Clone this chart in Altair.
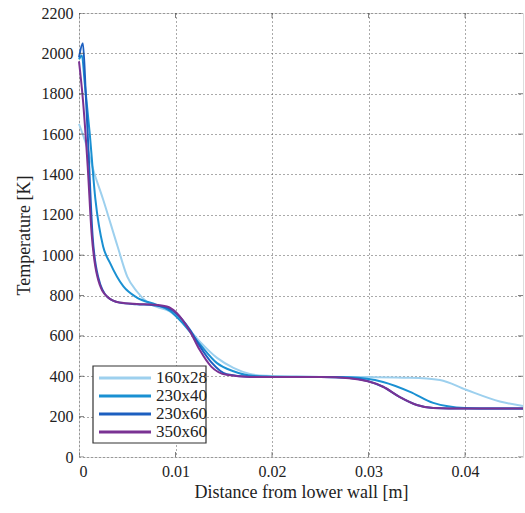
import altair as alt
import pandas as pd

series_names = ["160x28", "230x40", "230x60", "350x60"]
colors = ["#9dd0ee", "#1a90d2", "#1c5fc0", "#7a3293"]

x_160x28 = [0, 0.0008, 0.0015, 0.0025, 0.004, 0.005, 0.006, 0.007, 0.008, 0.0094, 0.0108, 0.0125, 0.0143, 0.016, 0.0177, 0.0194, 0.022, 0.026, 0.03, 0.0343, 0.0374, 0.0401, 0.0436, 0.046]
y_160x28 = [1650, 1540, 1420, 1276, 1043, 894, 820, 770, 745, 722, 665, 573, 491, 442, 412, 402, 398, 397, 396, 393, 382, 333, 275, 253]

x_230x40 = [0, 0.0003, 0.0006, 0.0011, 0.0017, 0.0025, 0.0032, 0.0046, 0.006, 0.008, 0.0094, 0.0108, 0.0125, 0.0143, 0.016, 0.018, 0.02, 0.025, 0.028, 0.0315, 0.0343, 0.0367, 0.040, 0.043, 0.046]
y_230x40 = [1970, 1990, 1850, 1609, 1276, 1043, 963, 845, 790, 755, 725, 660, 560, 465, 425, 402, 398, 397, 395, 372, 323, 268, 243, 240, 240]

x_230x60 = [0, 0.0004, 0.0007, 0.001, 0.0014, 0.002, 0.003, 0.0042, 0.006, 0.0077, 0.0091, 0.0101, 0.0115, 0.0125, 0.0137, 0.0153, 0.0177, 0.02, 0.025, 0.028, 0.0315, 0.0332, 0.035, 0.0367, 0.04, 0.046]
y_230x60 = [1980, 2050, 1800, 1500, 1100, 890, 790, 765, 757, 752, 740, 710, 630, 550, 470, 410, 398, 397, 396, 392, 348, 298, 258, 243, 240, 240]

x_350x60 = [0, 0.0004, 0.0009, 0.0013, 0.0019, 0.0029, 0.0042, 0.006, 0.0077, 0.0091, 0.0101, 0.0115, 0.0125, 0.0137, 0.0153, 0.0177, 0.02, 0.025, 0.028, 0.0315, 0.0332, 0.035, 0.0367, 0.04, 0.046]
y_350x60 = [1960, 1773, 1440, 1112, 894, 795, 765, 758, 755, 746, 715, 622, 531, 448, 407, 397, 397, 396, 390, 348, 298, 258, 243, 240, 240]

x_ticks = [0, 0.01, 0.02, 0.03, 0.04]
y_ticks = list(range(0, 2201, 200))
x_min, x_max = 0, 0.046
y_min, y_max = 0, 2200

rows = []
for name, xs, ys in [("160x28", x_160x28, y_160x28), ("230x40", x_230x40, y_230x40),
                     ("230x60", x_230x60, y_230x60), ("350x60", x_350x60, y_350x60)]:
    for i, (xv, yv) in enumerate(zip(xs, ys)):
        rows.append({"series": name, "x": xv, "y": yv, "order": i})
df = pd.DataFrame(rows)

font = "Times New Roman, Liberation Serif, serif"
color_scale = alt.Scale(domain=series_names, range=colors)
xs_scale = alt.Scale(domain=[x_min, x_max], nice=False, zero=False)
ys_scale = alt.Scale(domain=[y_min, y_max], nice=False)

lines = alt.Chart(df).mark_line(strokeWidth=2, interpolate="monotone").encode(
    x=alt.X("x:Q", scale=xs_scale,
            axis=alt.Axis(title="Distance from lower wall [m]", values=x_ticks, format="~g",
                          grid=True, gridDash=[1, 3], gridColor="#555", gridWidth=1,
                          ticks=False, domain=False, labelPadding=6, titlePadding=4,
                          labelFontSize=16, titleFontSize=18, labelFont=font, titleFont=font,
                          labelColor="#222", titleColor="#222", titleFontWeight="normal",
                          labelOverlap=False)),
    y=alt.Y("y:Q", scale=ys_scale,
            axis=alt.Axis(title="Temperature [K]", values=y_ticks, format="d",
                          grid=True, gridDash=[1, 3], gridColor="#555", gridWidth=1,
                          ticks=False, domain=False, labelPadding=6, titlePadding=8,
                          labelFontSize=16, titleFontSize=18, labelFont=font, titleFont=font,
                          labelColor="#222", titleColor="#222", titleFontWeight="normal",
                          labelOverlap=False)),
    color=alt.Color("series:N", scale=color_scale, legend=None),
    order="order:Q",
)

# inward tick marks on all four sides (clipped to plot area)
xt_df = pd.DataFrame({"x": x_ticks * 2, "y": [y_min] * len(x_ticks) + [y_max] * len(x_ticks)})
yt_df = pd.DataFrame({"y": y_ticks * 2, "x": [x_min] * len(y_ticks) + [x_max] * len(y_ticks)})
xticks = alt.Chart(xt_df).mark_tick(orient="vertical", size=10, thickness=1, color="#444", clip=True).encode(
    x=alt.X("x:Q", scale=xs_scale), y=alt.Y("y:Q", scale=ys_scale))
yticks = alt.Chart(yt_df).mark_tick(orient="horizontal", size=10, thickness=1, color="#444", clip=True).encode(
    x=alt.X("x:Q", scale=xs_scale), y=alt.Y("y:Q", scale=ys_scale))

# manual legend (pixel positions within plot area)
leg_df = pd.DataFrame({"series": series_names, "py": [365, 383, 401, 419]})

box = alt.Chart(pd.DataFrame({"a": [0]})).mark_rect(
    fill="white", stroke="#333", strokeWidth=1.2
).encode(x=alt.value(14), x2=alt.value(127), y=alt.value(353), y2=alt.value(430))

leg_lines = alt.Chart(leg_df).mark_rule(strokeWidth=3).encode(
    x=alt.value(20), x2=alt.value(72),
    y=alt.Y("py:Q", scale=None),
    color=alt.Color("series:N", scale=color_scale, legend=None),
)

leg_text = alt.Chart(leg_df).mark_text(
    align="left", baseline="middle", font=font, fontSize=17, color="#222"
).encode(
    x=alt.value(77),
    y=alt.Y("py:Q", scale=None),
    text="series:N",
)

chart = alt.layer(lines, xticks, yticks, box, leg_lines, leg_text).properties(
    width=444, height=444,
    padding={"left": 79, "top": 13, "right": 2, "bottom": 56},
    autosize=alt.AutoSizeParams(type="none"),
).configure_view(stroke="#444", strokeWidth=1.2).configure(background="white", font=font)

chart.save("out.html", embed_options={"renderer": "svg", "actions": False})
